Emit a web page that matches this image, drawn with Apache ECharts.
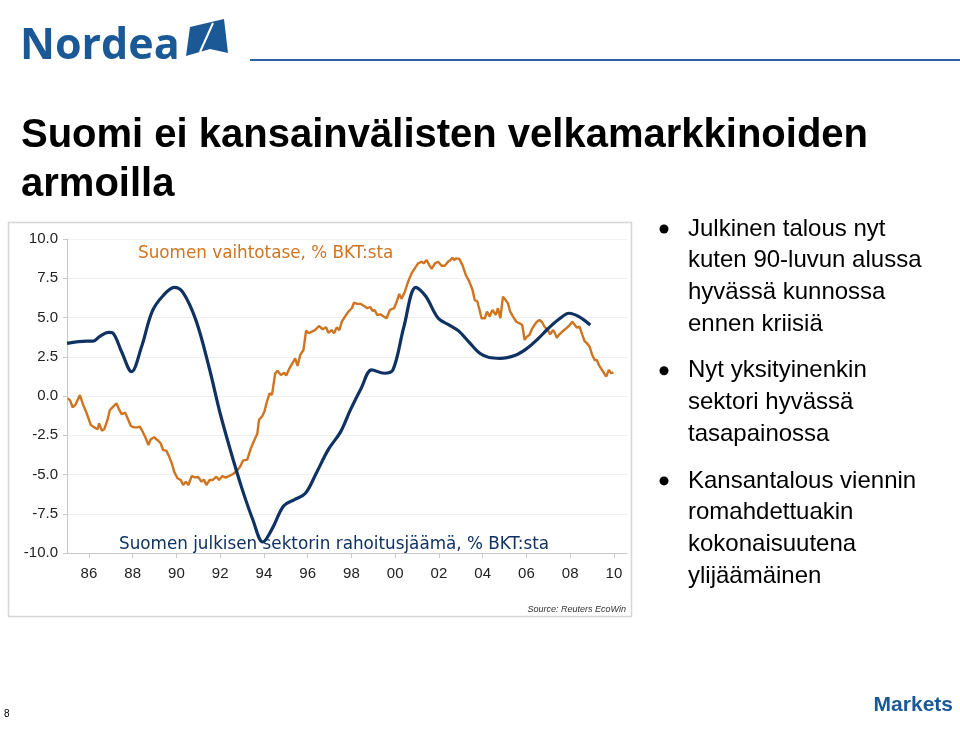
<!DOCTYPE html>
<html>
<head>
  <meta charset="utf-8">
  <script src="https://cdn.jsdelivr.net/npm/echarts@6/dist/echarts.min.js"></script>
  <style>
    html, body { margin: 0; padding: 0; background: #fff; }
    #main { width: 960px; height: 744px; }
  </style>
</head>
<body>
  <div id="main"></div>
  <script type="text/javascript">
    // julkisen sektorin rahoitusjäämä, % BKT:sta (vuosittainen, tasoitettu)
    var publicYears = [1985.0, 1985.9, 1986.2, 1986.5, 1986.9, 1987.1, 1987.5, 1987.95, 1988.4, 1988.9,
      1989.4, 1989.9, 1990.3, 1990.9, 1991.5, 1992.0, 1992.5, 1993.0, 1993.5, 1993.95,
      1994.4, 1994.9, 1995.4, 1995.9, 1996.4, 1996.95, 1997.5, 1997.95, 1998.45, 1998.93,
      1999.5, 1999.9, 2000.4, 2000.95, 2001.4, 2001.97, 2002.5, 2002.9, 2003.4, 2003.87,
      2004.3, 2004.8, 2005.5, 2006.0, 2006.5, 2007.0, 2007.5, 2007.95, 2008.4, 2008.92];
    var publicBalance = [3.35, 3.5, 3.5, 3.8, 4.05, 4.0, 2.8, 1.55, 3.1, 5.4,
      6.4, 6.92, 6.6, 4.8, 1.8, -1.1, -3.6, -5.9, -7.9, -9.3,
      -8.4, -7.0, -6.6, -6.2, -4.9, -3.4, -2.3, -0.9, 0.5, 1.66,
      1.45, 1.66, 4.4, 6.92, 6.35, 4.95, 4.5, 4.15, 3.4, 2.72,
      2.45, 2.4, 2.6, 3.0, 3.6, 4.3, 4.9, 5.27, 5.05, 4.52];

    // vaihtotase, % BKT:sta (kuukausittainen)
    var currentYears = [1985.03, 1985.13, 1985.26, 1985.38, 1985.47, 1985.59, 1985.74, 1985.9, 1986.09, 1986.25,
      1986.4, 1986.47, 1986.59, 1986.7, 1986.85, 1986.96, 1987.08, 1987.15, 1987.26, 1987.39,
      1987.5, 1987.66, 1987.77, 1987.92, 1988.07, 1988.22, 1988.33, 1988.42, 1988.57, 1988.72,
      1988.83, 1988.98, 1989.13, 1989.28, 1989.39, 1989.54, 1989.67, 1989.79, 1989.9, 1990.05,
      1990.2, 1990.31, 1990.43, 1990.55, 1990.7, 1990.85, 1991.0, 1991.15, 1991.26, 1991.37,
      1991.52, 1991.67, 1991.83, 1991.95, 1992.1, 1992.25, 1992.4, 1992.59, 1992.78, 1992.93,
      1993.04, 1993.24, 1993.4, 1993.55, 1993.7, 1993.78, 1993.91, 1994.02, 1994.14, 1994.26,
      1994.37, 1994.52, 1994.62, 1994.78, 1994.93, 1995.02, 1995.17, 1995.32, 1995.43, 1995.54,
      1995.66, 1995.81, 1995.93, 1996.05, 1996.19, 1996.34, 1996.52, 1996.69, 1996.84, 1996.95,
      1997.1, 1997.21, 1997.33, 1997.45, 1997.56, 1997.71, 1997.86, 1998.02, 1998.12, 1998.27,
      1998.43, 1998.58, 1998.73, 1998.86, 1998.97, 1999.07, 1999.18, 1999.33, 1999.49, 1999.61,
      1999.76, 1999.95, 2000.07, 2000.19, 2000.29, 2000.42, 2000.6, 2000.75, 2000.9, 2001.05,
      2001.21, 2001.31, 2001.44, 2001.56, 2001.67, 2001.82, 2001.97, 2002.12, 2002.27, 2002.42,
      2002.53, 2002.62, 2002.7, 2002.8, 2002.93, 2003.08, 2003.23, 2003.38, 2003.54, 2003.64,
      2003.75, 2003.84, 2003.95, 2004.1, 2004.2, 2004.32, 2004.45, 2004.6, 2004.7, 2004.81,
      2004.93, 2005.05, 2005.16, 2005.26, 2005.39, 2005.54, 2005.69, 2005.81, 2005.92, 2006.02,
      2006.14, 2006.27, 2006.37, 2006.48, 2006.6, 2006.72, 2006.83, 2006.98, 2007.09, 2007.21,
      2007.29, 2007.39, 2007.51, 2007.67, 2007.82, 2007.98, 2008.1, 2008.2, 2008.3, 2008.43,
      2008.55, 2008.66, 2008.77, 2008.89, 2009.01, 2009.12, 2009.22, 2009.33, 2009.49, 2009.65,
      2009.77, 2009.87, 2009.98];
    var currentAccount = [-0.15, -0.25, -0.72, -0.57, -0.68, 0.06, -0.57, -1.1, -1.85, -2.0,
      -2.12, -1.74, -2.21, -2.12, -1.53, -0.89, -0.72, -0.78, -0.47, -0.89,
      -1.15, -1.06, -1.42, -1.91, -2.0, -2.0, -1.95, -2.17, -2.59, -3.12,
      -2.76, -2.63, -2.8, -3.01, -3.44, -3.48, -3.86, -4.29, -4.82, -5.24,
      -5.35, -5.67, -5.46, -5.67, -5.1, -5.18, -5.16, -5.46, -5.32, -5.67,
      -5.35, -5.35, -5.14, -5.35, -5.1, -5.2, -5.1, -4.97, -4.76, -4.46,
      -4.12, -4.05, -3.35, -2.85, -2.4, -1.5, -1.32, -1.0, -0.36, 0.17,
      0.07, 1.45, 1.61, 1.34, 1.48, 1.3, 1.76, 2.12, 2.4, 1.91,
      2.61, 2.93, 4.16, 4.0, 4.1, 4.2, 4.46, 4.25, 4.38, 4.03,
      4.2, 3.99, 4.37, 4.2, 4.73, 5.05, 5.37, 5.59, 5.94, 5.87,
      5.86, 5.73, 5.59, 5.67, 5.43, 5.46, 5.16, 5.2, 5.05, 4.95,
      5.48, 5.59, 6.0, 6.5, 6.2, 6.55, 7.3, 7.81, 8.13, 8.45,
      8.55, 8.45, 8.66, 8.34, 8.09, 8.45, 8.55, 8.3, 8.3, 8.55,
      8.66, 8.81, 8.66, 8.77, 8.73, 8.34, 7.71, 7.32, 6.75, 6.11,
      6.05, 5.59, 4.95, 4.95, 5.37, 5.07, 5.48, 5.16, 5.59, 4.95,
      6.33, 6.11, 5.9, 5.37, 5.05, 4.73, 4.63, 4.52, 3.57, 3.78,
      3.89, 4.31, 4.52, 4.73, 4.84, 4.7, 4.41, 4.2, 3.93, 4.2,
      4.05, 3.71, 3.93, 4.14, 4.31, 4.52, 4.73, 4.56, 4.35, 4.41,
      3.93, 3.5, 3.36, 3.14, 2.61, 2.29, 2.29, 1.93, 1.59, 1.23,
      1.66, 1.45, 1.51];

    // akselin merkinnät
    var yearTicks = [1986, 1988, 1990, 1992, 1994, 1996, 1998, 2000, 2002, 2004, 2006, 2008, 2010];

    var bullets = [
      ['Julkinen talous nyt', 'kuten 90-luvun alussa', 'hyvässä kunnossa', 'ennen kriisiä'],
      ['Nyt yksityinenkin', 'sektori hyvässä', 'tasapainossa'],
      ['Kansantalous viennin', 'romahdettuakin', 'kokonaisuutena', 'ylijäämäinen']
    ];

    function zip(xs, ys) {
      return xs.map(function (x, i) { return [x, ys[i]]; });
    }

    var navy = '#0f3262';
    var orange = '#cf7420';
    var brand = '#1a5896';
    var sans = 'Liberation Sans, Arial, sans-serif';

    var graphics = [
      // kehys kaavion ympärillä
      { type: 'rect', z: -1, shape: { x: 8.5, y: 222.5, width: 623, height: 394 },
        style: { fill: '#fff', stroke: '#d6d6d6', lineWidth: 1.5 } },
      // Nordea-logo ja viiva
      { type: 'text', x: 20, y: 47, style: { text: 'Nordea', fill: brand, fontFamily: 'Open Sans, sans-serif',
        fontWeight: 'bold', fontSize: 43, verticalAlign: 'middle' } },
      { type: 'polygon', shape: { points: [[190, 27], [224, 19], [228, 53], [210, 49], [186, 56]] },
        style: { fill: brand } },
      { type: 'line', shape: { x1: 213, y1: 23, x2: 200, y2: 52 }, style: { stroke: '#fff', lineWidth: 2 } },
      { type: 'rect', shape: { x: 250, y: 59, width: 710, height: 2 }, style: { fill: '#2b63a0' } },
      // otsikko
      { type: 'text', x: 21, y: 136, style: { text: 'Suomi ei kansainvälisten velkamarkkinoiden', fill: '#000',
        fontFamily: sans, fontWeight: 'bold', fontSize: 40, verticalAlign: 'middle' } },
      { type: 'text', x: 21, y: 185, style: { text: 'armoilla', fill: '#000',
        fontFamily: sans, fontWeight: 'bold', fontSize: 40, verticalAlign: 'middle' } },
      // sarjojen nimet
      { type: 'text', x: 138, y: 254, style: { text: 'Suomen vaihtotase, % BKT:sta', fill: orange,
        fontFamily: 'DejaVu Sans, sans-serif', fontSize: 16.8, verticalAlign: 'middle' } },
      { type: 'text', x: 119, y: 545, style: { text: 'Suomen julkisen sektorin rahoitusjäämä, % BKT:sta', fill: navy,
        fontFamily: 'DejaVu Sans, sans-serif', fontSize: 16.8, verticalAlign: 'middle' } },
      { type: 'text', x: 626, y: 609, style: { text: 'Source: Reuters EcoWin', fill: '#333',
        fontFamily: sans, fontStyle: 'italic', fontSize: 9, align: 'right', verticalAlign: 'middle' } },
      // alareuna
      { type: 'text', x: 4, y: 714, style: { text: '8', fill: '#000', fontFamily: sans, fontSize: 10, verticalAlign: 'middle' } },
      { type: 'text', x: 953, y: 705, style: { text: 'Markets', fill: brand, fontFamily: sans, fontWeight: 'bold',
        fontSize: 21, align: 'right', verticalAlign: 'middle' } }
    ];

    // luettelomerkit oikealla
    var lineY = 229;
    bullets.forEach(function (group, gi) {
      graphics.push({ type: 'circle', shape: { cx: 664, cy: lineY, r: 4.5 }, style: { fill: '#000' } });
      group.forEach(function (txt) {
        graphics.push({ type: 'text', x: 688, y: lineY, style: { text: txt, fill: '#000', fontFamily: sans,
          fontSize: 24, verticalAlign: 'middle' } });
        lineY += 31.7;
      });
      lineY += 15;
    });

    var myChart = echarts.init(document.getElementById('main'));
    var option = {
      animation: false,
      grid: { left: 67, right: 333, top: 239, bottom: 191 },
      xAxis: {
        type: 'value',
        min: 1985,
        max: 2010.6,
        splitLine: { show: false },
        axisLine: { onZero: false, lineStyle: { color: '#c8c8c8' } },
        axisTick: { customValues: yearTicks, length: 5, lineStyle: { color: '#c8c8c8' } },
        axisLabel: {
          customValues: yearTicks,
          margin: 13,
          fontSize: 15,
          fontFamily: sans,
          color: '#222',
          formatter: function (v) { return String(v).slice(2); }
        }
      },
      yAxis: {
        type: 'value',
        min: -10,
        max: 10,
        interval: 2.5,
        axisLine: { show: true, lineStyle: { color: '#c8c8c8' } },
        axisTick: { show: true, length: 4, lineStyle: { color: '#c8c8c8' } },
        splitLine: { lineStyle: { color: '#f0f0f0' } },
        axisLabel: {
          margin: 9,
          fontSize: 15,
          fontFamily: sans,
          color: '#222',
          formatter: function (v) { return v.toFixed(1); }
        }
      },
      series: [
        {
          name: 'Suomen vaihtotase, % BKT:sta',
          type: 'line',
          showSymbol: false,
          data: zip(currentYears, currentAccount),
          lineStyle: { color: orange, width: 2.4 },
          itemStyle: { color: orange }
        },
        {
          name: 'Suomen julkisen sektorin rahoitusjäämä, % BKT:sta',
          type: 'line',
          showSymbol: false,
          smooth: 0.35,
          data: zip(publicYears, publicBalance),
          lineStyle: { color: navy, width: 3.2 },
          itemStyle: { color: navy }
        }
      ],
      graphic: graphics
    };
    myChart.setOption(option);
  </script>
</body>
</html>
